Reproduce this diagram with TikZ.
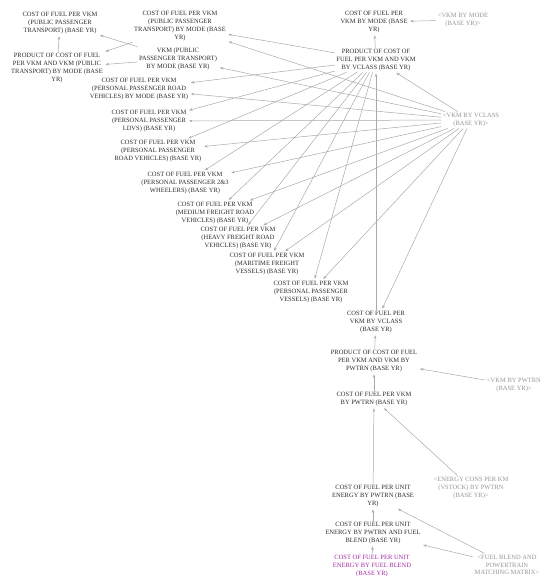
\documentclass[tikz,border=0pt]{standalone}
\usepackage{fontspec}
\setmainfont{Liberation Serif}
\usetikzlibrary{arrows.meta}
\definecolor{linegray}{RGB}{170,170,170}
\definecolor{textdark}{RGB}{45,45,45}
\definecolor{ghost}{RGB}{150,150,150}
\definecolor{mag}{RGB}{165,40,165}
\begin{document}
\begin{tikzpicture}[x=1pt,y=-1pt,
  v/.style={font=\fontsize{6.5}{7.8}\selectfont, align=center, inner sep=1.5pt, text=textdark},
  sh/.style={v, text=ghost},
  mg/.style={v, text=mag},
  ar/.style={draw=linegray, line width=0.5pt, -{Stealth[length=3.5pt,width=2.6pt]}, shorten >=1pt},
]
\useasboundingbox[fill=white] (0,0) rectangle (542,578);

\node[v] (nA) at (60,23) {COST OF FUEL PER VKM\\(PUBLIC PASSENGER\\TRANSPORT) (BASE YR)};
\node[v] (nB) at (180,26) {COST OF FUEL PER VKM\\(PUBLIC PASSENGER\\TRANSPORT) BY MODE (BASE\\YR)};
\node[v] (nC) at (57,68) {PRODUCT OF COST OF FUEL\\PER VKM AND VKM (PUBLIC\\TRANSPORT) BY MODE (BASE\\YR)};
\node[v] (nD) at (178,59) {VKM (PUBLIC\\PASSENGER TRANSPORT)\\BY MODE (BASE YR)};
\node[v] (nE) at (139,89) {COST OF FUEL PER VKM\\(PERSONAL PASSENGER ROAD\\VEHICLES) BY MODE (BASE YR)};
\node[v] (nF) at (149,121) {COST OF FUEL PER VKM\\(PERSONAL PASSENGER\\LDVS) (BASE YR)};
\node[v] (nG) at (158,151) {COST OF FUEL PER VKM\\(PERSONAL PASSENGER\\ROAD VEHICLES) (BASE YR)};
\node[v] (nH) at (185,183) {COST OF FUEL PER VKM\\(PERSONAL PASSENGER 2\&3\\WHEELERS) (BASE YR)};
\node[v] (nI) at (215,213) {COST OF FUEL PER VKM\\(MEDIUM FREIGHT ROAD\\VEHICLES) (BASE YR)};
\node[v] (nJ) at (238,238) {COST OF FUEL PER VKM\\(HEAVY FREIGHT ROAD\\VEHICLES) (BASE YR)};
\node[v] (nK) at (267,264) {COST OF FUEL PER VKM\\(MARITIME FREIGHT\\VESSELS) (BASE YR)};
\node[v] (nL) at (311,292) {COST OF FUEL PER VKM\\(PERSONAL PASSENGER\\VESSELS) (BASE YR)};
\node[v] (nM) at (376,322) {COST OF FUEL PER\\VKM BY VCLASS\\(BASE YR)};
\node[v] (nN) at (374,361) {PRODUCT OF COST OF FUEL\\PER VKM AND VKM BY\\PWTRN (BASE YR)};
\node[v] (nO) at (374,399) {COST OF FUEL PER VKM\\BY PWTRN (BASE YR)};
\node[sh] (nP) at (514,385) {<VKM BY PWTRN\\(BASE YR)>};
\node[sh] (nQ) at (471,488) {<ENERGY CONS PER KM\\(VSTOCK) BY PWTRN\\(BASE YR)>};
\node[v] (nR) at (373,496) {COST OF FUEL PER UNIT\\ENERGY BY PWTRN (BASE\\YR)};
\node[v] (nS) at (373,533) {COST OF FUEL PER UNIT\\ENERGY BY PWTRN AND FUEL\\BLEND (BASE YR)};
\node[mg] (nT) at (372,566) {COST OF FUEL PER UNIT\\ENERGY BY FUEL BLEND\\(BASE YR)};
\node[sh] (nU) at (507,565) {<FUEL BLEND AND\\POWERTRAIN\\MATCHING MATRIX>};
\node[v] (nV) at (374,22) {COST OF FUEL PER\\VKM BY MODE (BASE\\YR)};
\node[sh] (nW) at (463,20) {<VKM BY MODE\\(BASE YR)>};
\node[v] (nX) at (376,60) {PRODUCT OF COST OF\\FUEL PER VKM AND VKM\\BY VCLASS (BASE YR)};
\node[sh] (nY) at (471,120) {<VKM BY VCLASS\\(BASE YR)>};

\draw[ar] (nC) -- (nA);
\draw[ar] (nD) -- (nA);
\draw[ar] (nB) -- (nC);
\draw[ar] (nD) -- (nC);
\draw[ar] (nX) -- (nV);
\draw[ar] (nW) -- (nV);
\draw[ar] (nM) -- (nX);
\draw[ar] (nY) -- (nX);
\foreach \t in {nB,nE,nF,nG,nH,nI,nJ,nK,nL} {\draw[ar] (nX) -- (\t);}
\foreach \t in {nB,nD,nE,nF,nG,nH,nI,nJ,nK,nL,nM} {\draw[ar] (nY) -- (\t);}
\draw[ar] (nN) -- (nM);
\draw[ar] (nO) -- (nN);
\draw[ar] (nP) -- (nN);
\draw[ar] (nR) -- (nO);
\draw[ar] (nQ) -- (nO);
\draw[ar] (nS) -- (nR);
\draw[ar] (nU) -- (nR);
\draw[ar] (nT) -- (nS);
\draw[ar] (nU) -- (nS);
\end{tikzpicture}
\end{document}
